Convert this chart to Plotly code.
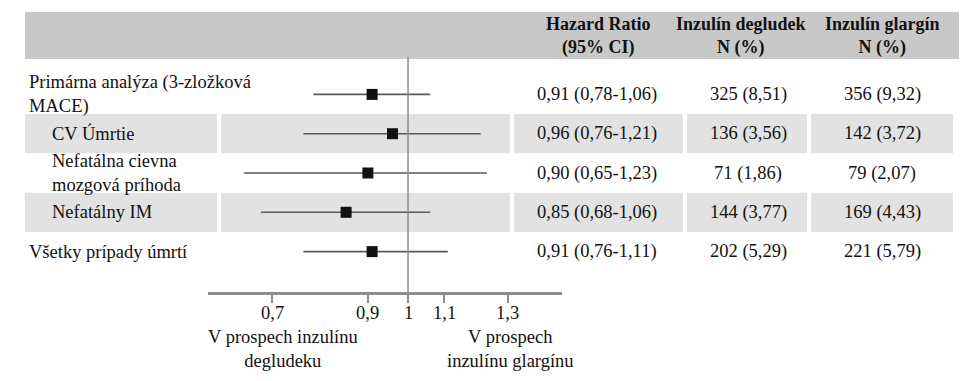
import math
import plotly.graph_objects as go

# ---------------- data ----------------
labels = ["Primárna analýza (3-zložková<br>MACE)", "CV Úmrtie",
          "Nefatálna cievna<br>mozgová príhoda", "Nefatálny IM",
          "Všetky prípady úmrtí"]
indented = [False, True, True, True, False]
hr = [0.91, 0.96, 0.90, 0.85, 0.91]
ci_low = [0.78, 0.76, 0.65, 0.68, 0.76]
ci_high = [1.06, 1.21, 1.23, 1.06, 1.11]
hr_text = ["0,91 (0,78-1,06)", "0,96 (0,76-1,21)", "0,90 (0,65-1,23)",
           "0,85 (0,68-1,06)", "0,91 (0,76-1,11)"]
degludek = ["325 (8,51)", "136 (3,56)", "71 (1,86)", "144 (3,77)", "202 (5,29)"]
glargin = ["356 (9,32)", "142 (3,72)", "79 (2,07)", "169 (4,43)", "221 (5,79)"]
col_headers = ["<b>Hazard Ratio</b><br><b>(95% CI)</b>",
               "<b>Inzulín degludek</b><br><b>N (%)</b>",
               "<b>Inzulín glargín</b><br><b>N (%)</b>"]
tick_vals = [0.7, 0.9, 1, 1.1, 1.3]
tick_text = ["0,7", "0,9", "1", "1,1", "1,3"]
left_note = "V prospech inzulínu<br>degludeku"
right_note = "V prospech<br>inzulínu glargínu"

# ---------------- layout constants ----------------
OFF = 8                      # default page margin of the html body
W, H = 967 - 2 * OFF, 381 - 2 * OFF
FONT = "Liberation Serif"
FS = 18.5
px = lambda p: (p - OFF) / W
py = lambda p: 1 - (p - OFF) / H

rows = list(range(len(labels)))

fig = go.Figure()

# CI lines
xs, ys = [], []
for k in rows:
    xs += [ci_low[k], ci_high[k], None]
    ys += [k, k, None]
fig.add_trace(go.Scatter(x=xs, y=ys, mode="lines",
                         line=dict(color="#5a5a5a", width=1.6),
                         hoverinfo="skip", showlegend=False))
# point estimates
fig.add_trace(go.Scatter(x=hr, y=rows, mode="markers",
                         marker=dict(symbol="square", size=11, color="#111111",
                                     line=dict(width=0)),
                         showlegend=False))

shapes = []
# header band
shapes.append(dict(type="rect", xref="paper", yref="paper",
                   x0=px(25), x1=px(960), y0=py(59), y1=py(12),
                   fillcolor="#c8c8c8", line=dict(width=0), layer="below"))
# shaded rows (split in cells)
cells = [(25, 217), (221, 510), (514, 683), (687, 807), (811, 953)]
for k in rows:
    if k % 2 == 1:
        for a, b in cells:
            shapes.append(dict(type="rect", xref="paper", yref="y",
                               x0=px(a), x1=px(b), y0=k - 0.5, y1=k + 0.5,
                               fillcolor="#e2e2e2", line=dict(width=0),
                               layer="below"))
# reference line at 1
shapes.append(dict(type="line", xref="x", yref="y domain", x0=1, x1=1,
                   y0=0, y1=1, line=dict(color="#8c8c8c", width=1.5)))

annotations = []
font = dict(family=FONT, size=FS, color="#111111")
bfont = dict(family=FONT, size=18, color="#111111")
for k in rows:
    annotations.append(dict(xref="paper", yref="y",
                            x=px(50 if indented[k] else 27), y=k,
                            xanchor="left", yanchor="middle", align="left",
                            text=labels[k], showarrow=False, font=font))
    annotations.append(dict(xref="paper", yref="y", x=px(597), y=k,
                            xanchor="center", yanchor="middle",
                            text=hr_text[k], showarrow=False, font=font))
    annotations.append(dict(xref="paper", yref="y", x=px(748), y=k,
                            xanchor="center", yanchor="middle",
                            text=degludek[k], showarrow=False, font=font))
    annotations.append(dict(xref="paper", yref="y", x=px(882), y=k,
                            xanchor="center", yanchor="middle",
                            text=glargin[k], showarrow=False, font=font))
for cx, t in zip([598, 741, 882], col_headers):
    annotations.append(dict(xref="paper", yref="paper", x=px(cx), y=py(36),
                            xanchor="center", yanchor="middle", align="center",
                            text=t, showarrow=False, font=bfont))
# tick labels placed on the log axis positions
for v, t in zip(tick_vals, tick_text):
    annotations.append(dict(xref="x", yref="paper", x=math.log10(v),
                            y=py(313), xanchor="center", yanchor="middle",
                            text=t, showarrow=False, font=font))
annotations.append(dict(xref="paper", yref="paper", x=px(283), y=py(348.5),
                        xanchor="center", yanchor="middle", align="center",
                        text=left_note, showarrow=False, font=font))
annotations.append(dict(xref="paper", yref="paper", x=px(510), y=py(348.5),
                        xanchor="center", yanchor="middle", align="center",
                        text=right_note, showarrow=False, font=font))

fig.update_layout(
    width=W, height=H,
    margin=dict(l=0, r=0, t=0, b=0),
    paper_bgcolor="white", plot_bgcolor="rgba(0,0,0,0)",
    font=font,
    shapes=shapes, annotations=annotations,
    xaxis=dict(type="log", domain=[px(208), px(562)],
               range=[-0.228, 0.1755],
               tickvals=tick_vals, showticklabels=False,
               ticks="outside", ticklen=8, tickwidth=2, tickcolor="#8c8c8c",
               showline=True, linecolor="#8c8c8c", linewidth=2.5,
               showgrid=False, zeroline=False),
    yaxis=dict(domain=[py(292), py(57)], range=[5.028, -0.9517],
               visible=False, showgrid=False, zeroline=False),
)

fig.write_html("out.html")
